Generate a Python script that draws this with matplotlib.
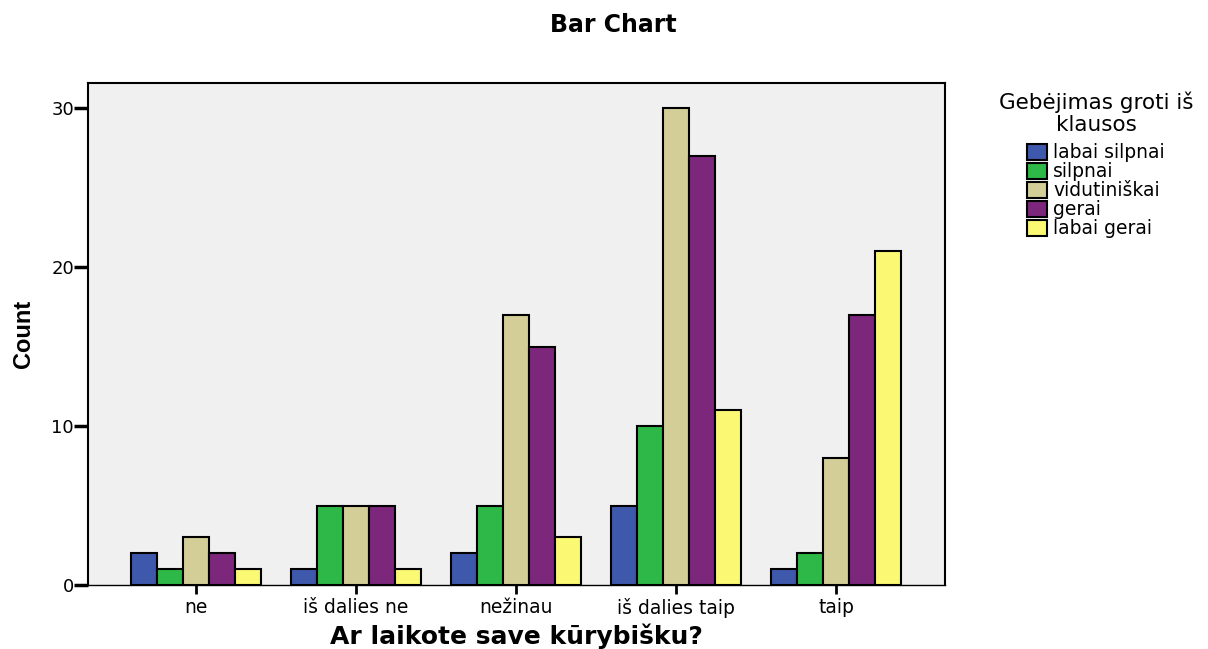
import matplotlib.pyplot as plt
import numpy as np
from matplotlib.patches import Patch
from matplotlib import font_manager

categories = ['ne', 'iš dalies ne', 'nežinau', 'iš dalies taip', 'taip']
series_names = ['labai silpnai', 'silpnai', 'vidutiniškai', 'gerai', 'labai gerai']
labai_silpnai = [2, 1, 2, 5, 1]
silpnai = [1, 5, 5, 10, 2]
vidutiniskai = [3, 5, 17, 30, 8]
gerai = [2, 5, 15, 27, 17]
labai_gerai = [1, 1, 3, 11, 21]
colors = ['#3e58ac', '#2eb848', '#d3ce97', '#7c277b', '#fbf873']

plt.rcParams['font.family'] = ['DejaVu Sans']
narrow = 'Liberation Sans Narrow'
names = {f.name for f in font_manager.fontManager.ttflist}
if narrow not in names:
    narrow = 'Liberation Sans'

fig = plt.figure(figsize=(12.08, 6.49), dpi=100)
ax = fig.add_axes([88 / 1208, 1 - 585 / 649, (945 - 88) / 1208, (585 - 83) / 649])
ax.set_facecolor('#f0f0f0')

x = np.arange(len(categories))
w = 0.1625
all_series = [labai_silpnai, silpnai, vidutiniskai, gerai, labai_gerai]
for i, vals in enumerate(all_series):
    ax.bar(x + (i - 2) * w, vals, w, color=colors[i], edgecolor='black',
           linewidth=1.5, label=series_names[i], zorder=3)

ax.set_xlim(-0.675, 4.68)
ax.set_ylim(0, 31.6)
ax.set_yticks([0, 10, 20, 30])
ax.set_xticks(x)
ax.set_xticklabels(categories)
ax.tick_params(axis='y', labelsize=13, length=10, width=2.5, pad=0, colors='black')
ax.tick_params(axis='x', labelsize=13.5, length=6.5, width=2, pad=3, colors='black')
for s in ax.spines.values():
    s.set_linewidth(1.5)
ax.spines['bottom'].set_linewidth(1)

ax.set_ylabel('Count', fontsize=17, fontweight='bold', family=narrow, labelpad=12)
fig.text(516 / 1208, 1 - 644 / 649, 'Ar laikote save kūrybišku?', ha='center',
         va='baseline', fontsize=18, fontweight='bold')
fig.text(0.508, 0.962, 'Bar Chart', ha='center', va='center', fontsize=17, fontweight='bold')

handles = [Patch(facecolor=c, edgecolor='black', linewidth=1.5) for c in colors]
leg = fig.legend(handles, series_names, title='Gebėjimas groti iš\nklausos',
                 loc='upper center', bbox_to_anchor=(1096 / 1208, 1 - 92 / 649),
                 frameon=False, fontsize=13.5, title_fontsize=15.5,
                 handlelength=1.05, handleheight=0.95, handletextpad=0.35,
                 labelspacing=0.0, borderaxespad=0, borderpad=0)
leg._legend_box.align = 'center'
leg._legend_box.sep = 6
leg.get_title().set_multialignment('center')
leg.get_title().set_linespacing(1.1)

plt.savefig('out.png', dpi=100)
